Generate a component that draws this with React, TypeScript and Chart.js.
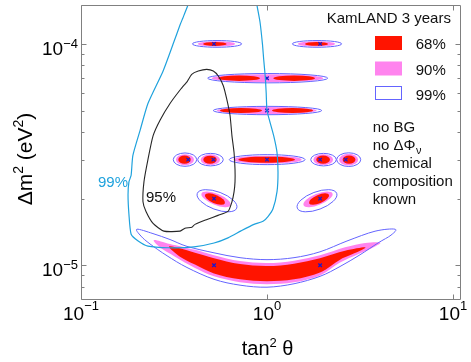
import React, { useEffect, useRef } from 'react';
import { Chart, registerables } from 'chart.js';

Chart.register(...registerables);

const W = 471;
const H = 362;
const FONT = '"Liberation Sans", Arial, Helvetica, sans-serif';
const RED = '#ff1400';
const PINK = '#ff84ee';
const BLUE = '#6464ff';
const MARK = '#1a1ad0';
const CYAN = '#1fa2dd';
const BLACK = '#262626';
const FRAME = '#808080';

// axis ranges (tan^2 theta, delta m^2 in eV^2)
const xRange = [0.1, 11.04];
const yRange = [7.04e-6, 1.494e-4];
const xMajorTicks = [0.1, 1, 10];
const xTickExp = ['\u22121', '0', '1'];
const yMajorTicks = [1e-5, 1e-4];
const yTickExp = ['\u22125', '\u22124'];
const yMinorTicks = [8e-6, 9e-6, 2e-5, 3e-5, 4e-5, 5e-5, 6e-5, 7e-5, 8e-5, 9e-5];

// best-fit points (blue x marks)
const bestFitX = [0.519, 1.93, 1.0, 1.0, 0.377, 0.515, 1.0, 1.93, 2.65, 0.519, 1.93, 0.519, 1.93];
const bestFitY = [1e-4, 1e-4, 7e-5, 5e-5, 3e-5, 3e-5, 3e-5, 3e-5, 3e-5, 2e-5, 2e-5, 1e-5, 1e-5];

// 99% contour (cyan)
const cyanX = [0.385, 0.375, 0.353, 0.341, 0.312, 0.276, 0.229, 0.208, 0.19, 0.186, 0.181, 0.179, 0.181, 0.186, 0.202, 0.229, 0.294, 0.405, 0.519, 0.617, 0.725, 0.851, 0.952, 1.012, 1.077, 1.132, 1.146, 1.132, 1.09, 1.04, 1.0, 0.99, 0.98, 0.96, 0.945, 0.917, 0.884, 0.873];
const cyanY = [1.605e-4, 1.49e-4, 1.31e-4, 1.22e-4, 9.93e-5, 7.53e-5, 5.38e-5, 4.08e-5, 3.13e-5, 2.55e-5, 2.38e-5, 2.08e-5, 1.7e-5, 1.38e-5, 1.29e-5, 1.22e-5, 1.2e-5, 1.21e-5, 1.26e-5, 1.33e-5, 1.43e-5, 1.53e-5, 1.58e-5, 1.66e-5, 1.8e-5, 2.15e-5, 2.63e-5, 3.23e-5, 3.8e-5, 4.4e-5, 5.0e-5, 6.0e-5, 7.0e-5, 8.5e-5, 1.0e-4, 1.256e-4, 1.49e-4, 1.605e-4];

// 95% contour (black)
const blackX = [0.3715, 0.3937, 0.4272, 0.4739, 0.5143, 0.5472, 0.5822, 0.6072, 0.6326, 0.648, 0.665, 0.673, 0.673, 0.665, 0.648, 0.617, 0.545, 0.476, 0.41, 0.395, 0.362, 0.341, 0.279, 0.244, 0.2236, 0.2154, 0.218, 0.229, 0.244, 0.266, 0.301, 0.345, 0.3715];
const blackY = [6.73e-5, 7.29e-5, 7.54e-5, 7.67e-5, 7.54e-5, 7.16e-5, 6.47e-5, 5.64e-5, 4.76e-5, 3.84e-5, 3.23e-5, 2.71e-5, 2.38e-5, 2.145e-5, 1.936e-5, 1.75e-5, 1.68e-5, 1.61e-5, 1.53e-5, 1.486e-5, 1.47e-5, 1.426e-5, 1.426e-5, 1.546e-5, 1.75e-5, 1.936e-5, 2.38e-5, 3.0e-5, 3.84e-5, 4.52e-5, 5.38e-5, 6.27e-5, 6.73e-5];

// island contours: [x end A, y end A, x end B, y end B, minor/major ratio]
const island99 = [
  [0.397, 1e-4, 0.731, 1e-4, 0.136],
  [1.368, 1e-4, 2.52, 1e-4, 0.136],
  [0.48, 7e-5, 2.12, 7e-5, 0.078],
  [0.514, 5e-5, 1.968, 5e-5, 0.077],
  [0.3134, 3e-5, 0.4188, 3e-5, 0.57],
  [0.424, 3e-5, 0.582, 3e-5, 0.49],
  [0.627, 3e-5, 1.601, 3e-5, 0.132],
  [1.718, 3e-5, 2.358, 3e-5, 0.49],
  [2.37, 3e-5, 3.19, 3e-5, 0.57],
  [0.4219, 2.112e-5, 0.6874, 1.812e-5, 0.42],
  [1.455, 1.812e-5, 2.37, 2.112e-5, 0.42],
];
const island90 = [
  [0.4256, 1e-4, 0.673, 1e-4, 0.14],
  [1.468, 1e-4, 2.32, 1e-4, 0.14],
  [0.504, 7e-5, 2.008, 7e-5, 0.072],
  [0.5365, 5e-5, 1.85, 5e-5, 0.072],
  [0.324, 3e-5, 0.405, 3e-5, 0.61],
  [0.44, 3e-5, 0.559, 3e-5, 0.55],
  [0.659, 3e-5, 1.537, 3e-5, 0.117],
  [1.775, 3e-5, 2.265, 3e-5, 0.55],
  [2.44, 3e-5, 3.09, 3e-5, 0.61],
  [0.4446, 2.112e-5, 0.6363, 1.868e-5, 0.36],
  [1.572, 1.868e-5, 2.249, 2.112e-5, 0.36],
];
const island68 = [
  [0.453, 1e-4, 0.607, 1e-4, 0.17],
  [1.6, 1e-4, 2.13, 1e-4, 0.17],
  [0.547, 7e-5, 0.917, 7e-5, 0.13],
  [1.081, 7e-5, 1.812, 7e-5, 0.13],
  [0.559, 5e-5, 0.94, 5e-5, 0.12],
  [1.064, 5e-5, 1.767, 5e-5, 0.12],
  [0.3336, 3e-5, 0.389, 3e-5, 0.65],
  [0.4546, 3e-5, 0.5365, 3e-5, 0.6],
  [0.701, 3e-5, 1.414, 3e-5, 0.106],
  [1.84, 3e-5, 2.18, 3e-5, 0.6],
  [2.55, 3e-5, 2.99, 3e-5, 0.65],
  [0.4642, 2.08e-5, 0.5943, 1.907e-5, 0.39],
  [1.683, 1.907e-5, 2.154, 2.08e-5, 0.39],
];

// crescent-shaped low-dm2 region, outline points
const banana99X = [0.2, 0.2438, 0.301, 0.3714, 0.5189, 0.716, 1.0, 1.397, 1.927, 2.692, 3.808, 4.878, 4.642, 3.953, 3.162, 2.469, 1.927, 1.397, 1.0, 0.716, 0.5189, 0.3714, 0.2901, 0.235, 0.2102];
const banana99Y = [1.455e-5, 1.39e-5, 1.307e-5, 1.217e-5, 1.138e-5, 1.082e-5, 1.06e-5, 1.082e-5, 1.15e-5, 1.287e-5, 1.425e-5, 1.455e-5, 1.368e-5, 1.261e-5, 1.115e-5, 0.987e-5, 0.891e-5, 0.825e-5, 0.796e-5, 0.813e-5, 0.864e-5, 0.977e-5, 1.104e-5, 1.248e-5, 1.354e-5];
const banana90X = [0.2469, 0.301, 0.4101, 0.5189, 0.716, 1.0, 1.397, 1.927, 2.627, 3.365, 4.05, 3.808, 3.085, 2.469, 1.927, 1.397, 1.0, 0.716, 0.5189, 0.4101, 0.3201, 0.266];
const banana90Y = [1.3e-5, 1.248e-5, 1.174e-5, 1.11e-5, 1.044e-5, 1.023e-5, 1.049e-5, 1.11e-5, 1.205e-5, 1.261e-5, 1.267e-5, 1.217e-5, 1.121e-5, 1.028e-5, 0.9e-5, 0.838e-5, 0.821e-5, 0.838e-5, 0.891e-5, 0.972e-5, 1.093e-5, 1.205e-5];
const banana68X = [0.2972, 0.3405, 0.4101, 0.5189, 0.716, 1.0, 1.397, 1.927, 2.627, 3.365, 3.085, 2.469, 1.927, 1.397, 1.0, 0.716, 0.5189, 0.4101, 0.3405];
const banana68Y = [1.211e-5, 1.192e-5, 1.138e-5, 1.076e-5, 1.012e-5, 0.992e-5, 1.017e-5, 1.076e-5, 1.162e-5, 1.205e-5, 1.15e-5, 1.06e-5, 0.928e-5, 0.864e-5, 0.847e-5, 0.864e-5, 0.919e-5, 1.007e-5, 1.093e-5];

const legendLevels = ['68%', '90%', '99%'];
const legendTitle = 'KamLAND 3 years';
const noteLines = ['no BG', 'no \u0394\u03a6', 'chemical', 'composition', 'known'];

function smoothClosed(ctx: CanvasRenderingContext2D, pts: number[][]) {
  const n = pts.length;
  const t = 1 / 6;
  ctx.moveTo(pts[0][0], pts[0][1]);
  for (let i = 0; i < n; i++) {
    const p0 = pts[(i - 1 + n) % n];
    const p1 = pts[i];
    const p2 = pts[(i + 1) % n];
    const p3 = pts[(i + 2) % n];
    ctx.bezierCurveTo(
      p1[0] + (p2[0] - p0[0]) * t, p1[1] + (p2[1] - p0[1]) * t,
      p2[0] - (p3[0] - p1[0]) * t, p2[1] - (p3[1] - p1[1]) * t,
      p2[0], p2[1]
    );
  }
  ctx.closePath();
}

const contourPlugin = {
  id: 'contours',
  beforeDatasetsDraw(chart: any) {
    const { ctx, chartArea: a } = chart;
    const xs = chart.scales.x;
    const ys = chart.scales.y;
    const ellipsePath = (e: number[]) => {
      const ax = xs.getPixelForValue(e[0]);
      const ay = ys.getPixelForValue(e[1]);
      const bx = xs.getPixelForValue(e[2]);
      const by = ys.getPixelForValue(e[3]);
      const half = Math.hypot(bx - ax, by - ay) / 2;
      ctx.beginPath();
      ctx.ellipse((ax + bx) / 2, (ay + by) / 2, half, half * e[4], Math.atan2(by - ay, bx - ax), 0, Math.PI * 2);
    };
    const polyPath = (X: number[], Y: number[]) => {
      const pts = X.map((v, i) => [xs.getPixelForValue(v), ys.getPixelForValue(Y[i])]);
      ctx.beginPath();
      smoothClosed(ctx, pts);
    };
    ctx.save();
    ctx.beginPath();
    ctx.rect(a.left, a.top, a.right - a.left, a.bottom - a.top);
    ctx.clip();
    ctx.filter = 'blur(0.5px)';
    ctx.fillStyle = PINK;
    island90.forEach((e) => { ellipsePath(e); ctx.fill(); });
    polyPath(banana90X, banana90Y); ctx.fill();
    ctx.fillStyle = RED;
    island68.forEach((e) => { ellipsePath(e); ctx.fill(); });
    polyPath(banana68X, banana68Y); ctx.fill();
    ctx.filter = 'none';
    ctx.strokeStyle = BLUE;
    ctx.lineWidth = 1;
    island99.forEach((e) => { ellipsePath(e); ctx.stroke(); });
    polyPath(banana99X, banana99Y); ctx.stroke();
    ctx.restore();
  },
};

const framePlugin = {
  id: 'frame',
  afterDraw(chart: any) {
    const { ctx, chartArea: a } = chart;
    const xs = chart.scales.x;
    const ys = chart.scales.y;
    const L = Math.round(a.left) + 0.5;
    const R = Math.round(a.right) - 0.5;
    const T = Math.round(a.top) + 0.5;
    const B = Math.round(a.bottom) + 0.5;
    ctx.save();
    ctx.strokeStyle = FRAME;
    ctx.lineWidth = 1;
    ctx.beginPath();
    ctx.moveTo(L, T); ctx.lineTo(R, T); ctx.lineTo(R, B); ctx.lineTo(L, B); ctx.closePath();
    ctx.stroke();
    ctx.beginPath();
    yMajorTicks.forEach((v) => {
      const p = Math.round(ys.getPixelForValue(v)) + 0.5;
      ctx.moveTo(L, p); ctx.lineTo(L + 5, p);
      ctx.moveTo(R, p); ctx.lineTo(R - 5, p);
    });
    yMinorTicks.forEach((v) => {
      const p = Math.round(ys.getPixelForValue(v)) + 0.5;
      ctx.moveTo(L, p); ctx.lineTo(L + 3, p);
      ctx.moveTo(R, p); ctx.lineTo(R - 3, p);
    });
    xMajorTicks.forEach((v) => {
      const p = Math.round(xs.getPixelForValue(v)) + 0.5;
      ctx.moveTo(p, B); ctx.lineTo(p, B - 5);
      ctx.moveTo(p, T); ctx.lineTo(p, T + 5);
    });
    ctx.stroke();

    // tick labels
    ctx.fillStyle = '#000';
    ctx.textBaseline = 'alphabetic';
    ctx.textAlign = 'left';
    const big = `19px ${FONT}`;
    const small = `13px ${FONT}`;
    yMajorTicks.forEach((v, i) => {
      const p = ys.getPixelForValue(v);
      ctx.font = big;
      const w1 = ctx.measureText('10').width;
      ctx.font = small;
      const w2 = ctx.measureText(yTickExp[i]).width;
      const x0 = a.left - 3 - w1 - w2;
      ctx.font = big;
      ctx.fillText('10', x0, p + 11);
      ctx.font = small;
      ctx.fillText(yTickExp[i], x0 + w1, p + 4);
    });
    xMajorTicks.forEach((v, i) => {
      const p = xs.getPixelForValue(v);
      ctx.font = big;
      const w1 = ctx.measureText('10').width;
      ctx.font = small;
      const w2 = ctx.measureText(xTickExp[i]).width;
      const x0 = p - (w1 + w2) / 2;
      ctx.font = big;
      ctx.fillText('10', x0, 320);
      ctx.font = small;
      ctx.fillText(xTickExp[i], x0 + w1, 310);
    });

    // x title: tan^2 theta
    let cx = 241.7;
    ctx.font = `20px ${FONT}`;
    ctx.fillText('tan', cx, 355);
    cx += ctx.measureText('tan').width;
    ctx.font = `13px ${FONT}`;
    ctx.fillText('2', cx, 346.5);
    cx += ctx.measureText('2').width;
    ctx.font = `20px ${FONT}`;
    ctx.fillText(' \u03b8', cx, 355);

    // y title: delta m^2 (eV^2)
    ctx.save();
    ctx.translate(32, 159);
    ctx.rotate(-Math.PI / 2);
    const parts: [string, boolean][] = [['\u0394m', false], ['2', true], [' (eV', false], ['2', true], [')', false]];
    const fBig = `21px ${FONT}`;
    const fSup = `14px ${FONT}`;
    let total = 0;
    parts.forEach(([s, sup]) => { ctx.font = sup ? fSup : fBig; total += ctx.measureText(s).width; });
    let tx = -total / 2;
    parts.forEach(([s, sup]) => {
      ctx.font = sup ? fSup : fBig;
      ctx.fillText(s, tx, sup ? -9 : 0);
      tx += ctx.measureText(s).width;
    });
    ctx.restore();

    // contour labels
    ctx.font = `15px ${FONT}`;
    ctx.fillStyle = CYAN;
    ctx.fillText('99%', 98, 187);
    ctx.fillStyle = '#111';
    ctx.fillText('95%', 146, 202);

    // legend
    ctx.fillStyle = '#111';
    ctx.fillText(legendTitle, 326.7, 23.3);
    const boxTop = [36, 61.5, 86];
    const labelBase = [49.3, 75, 100];
    const fills = [RED, PINK, '#fff'];
    legendLevels.forEach((lab, i) => {
      ctx.fillStyle = fills[i];
      ctx.fillRect(375, boxTop[i], 27, 14);
      if (i === 2) {
        ctx.strokeStyle = BLUE;
        ctx.strokeRect(375.5, boxTop[i] + 0.5, 26, 13);
      }
      ctx.fillStyle = '#111';
      ctx.fillText(lab, 415.7, labelBase[i]);
    });
    const noteBase = [132.3, 150, 168, 186, 203.5];
    noteLines.forEach((s, i) => {
      ctx.font = `15px ${FONT}`;
      ctx.fillText(s, 372.7, noteBase[i]);
      if (i === 1) {
        const w = ctx.measureText(s).width;
        ctx.font = `11px ${FONT}`;
        ctx.fillText('\u03bd', 372.7 + w + 0.5, noteBase[i] + 4);
      }
    });
    ctx.restore();
  },
};

export default function App() {
  const ref = useRef<HTMLCanvasElement>(null);
  useEffect(() => {
    const canvas = ref.current;
    if (!canvas) return;
    const chart = new Chart(canvas, {
      type: 'scatter',
      data: {
        datasets: [
          {
            label: '99% (cyan)',
            data: cyanX.map((x, i) => ({ x, y: cyanY[i] })),
            showLine: true,
            borderColor: CYAN,
            borderWidth: 1.2,
            pointRadius: 0,
            tension: 0.2,
            fill: false,
          },
          {
            label: '95%',
            data: blackX.map((x, i) => ({ x, y: blackY[i] })),
            showLine: true,
            borderColor: BLACK,
            borderWidth: 1.1,
            pointRadius: 0,
            tension: 0.2,
            fill: false,
          },
          {
            label: 'best fit',
            data: bestFitX.map((x, i) => ({ x, y: bestFitY[i] })),
            showLine: false,
            pointStyle: 'crossRot',
            pointRadius: 2.5,
            borderColor: MARK,
            backgroundColor: MARK,
            borderWidth: 1.3,
          },
        ],
      },
      options: {
        responsive: false,
        animation: false,
        devicePixelRatio: 1,
        layout: { padding: { left: 81, right: 10, top: 0, bottom: 63 } },
        scales: {
          x: { type: 'logarithmic', min: xRange[0], max: xRange[1], display: false, bounds: 'data' },
          y: { type: 'logarithmic', min: yRange[0], max: yRange[1], display: false, bounds: 'data' },
        },
        plugins: { legend: { display: false }, tooltip: { enabled: false } },
        events: [],
      },
      plugins: [contourPlugin, framePlugin],
    } as any);
    return () => chart.destroy();
  }, []);
  return (
    <div style={{ position: 'absolute', left: 0, top: 0, width: W, height: H, background: '#fff' }}>
      <canvas ref={ref} width={W} height={H} style={{ width: W, height: H, display: 'block' }} />
    </div>
  );
}
